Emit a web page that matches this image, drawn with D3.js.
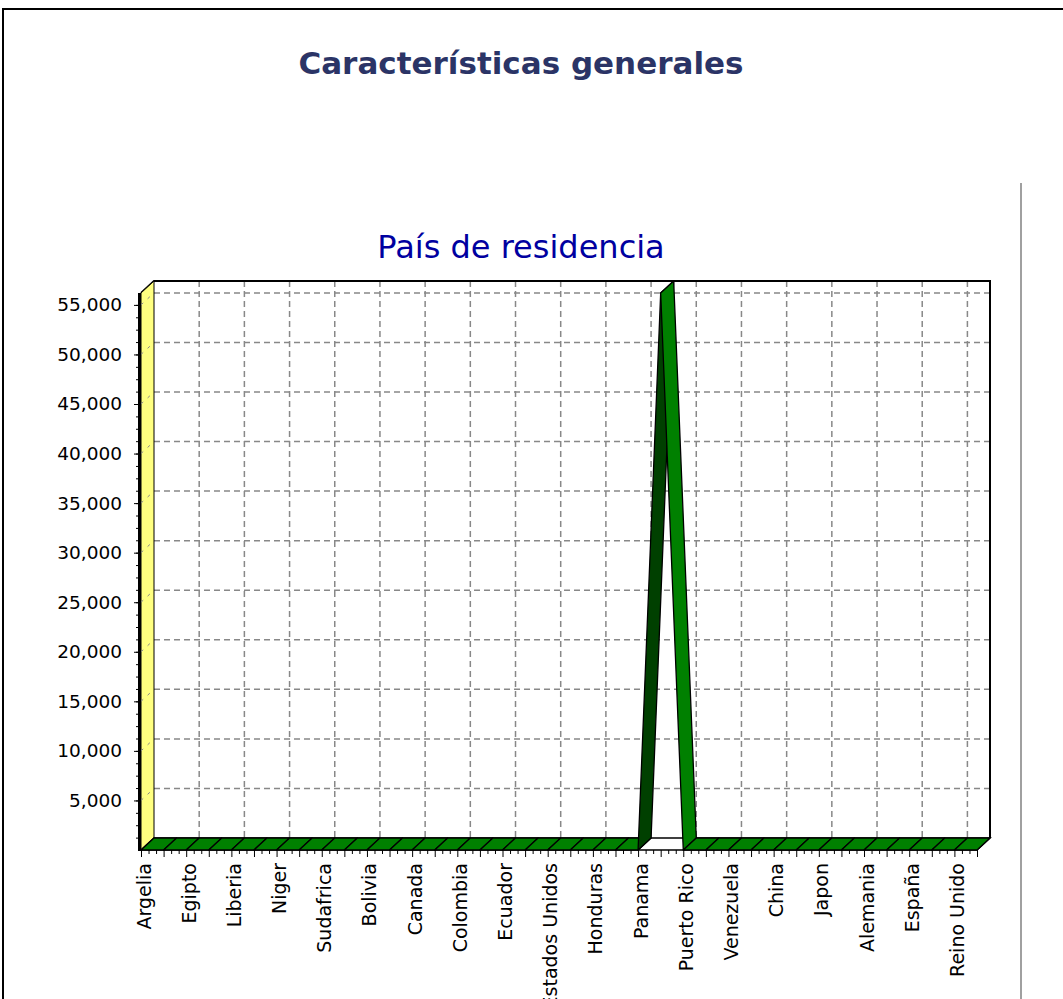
<!DOCTYPE html>
<html>
<head>
<meta charset="utf-8">
<script src="https://cdnjs.cloudflare.com/ajax/libs/d3/7.8.5/d3.min.js"></script>
<style>
  html, body { margin: 0; padding: 0; background: #fff; overflow: hidden; }
  svg { display: block; }
  text { font-family: "DejaVu Sans", Verdana, sans-serif; }
</style>
</head>
<body>
<svg id="chart" width="1063" height="999"></svg>
<script>
// paises (solo se rotula uno de cada dos)
const paises = [
  "Argelia", "Camerun", "Egipto", "Etiopia", "Liberia", "Marruecos", "Niger", "Nigeria",
  "Sudafrica", "Argentina", "Bolivia", "Brasil", "Canada", "Chile", "Colombia", "Costa Rica",
  "Ecuador", "El Salvador", "Estados Unidos", "Guatemala", "Honduras", "Mexico", "Panama", "Peru",
  "Puerto Rico", "Rep. Dominicana", "Venezuela", "Otros America", "China", "Corea", "Japon", "Otros Asia",
  "Alemania", "Francia", "España", "Italia", "Reino Unido", "Otros"
];
const residentes = [
  0, 0, 0, 0, 0, 0, 0, 0,
  0, 0, 0, 0, 0, 0, 0, 0,
  0, 0, 0, 0, 0, 0, 0, 56200,
  0, 0, 0, 0, 0, 0, 0, 0,
  0, 0, 0, 0, 0, 0
];
const etiquetasVisibles = [
  "Argelia", "Egipto", "Liberia", "Niger", "Sudafrica", "Bolivia", "Canada", "Colombia",
  "Ecuador", "Estados Unidos", "Honduras", "Panama", "Puerto Rico", "Venezuela", "China",
  "Japon", "Alemania", "España", "Reino Unido"
];
const yTicks = [5000, 10000, 15000, 20000, 25000, 30000, 35000, 40000, 45000, 50000, 55000];
const yMax = 56200;

const titulo = "Características generales";
const subtitulo = "País de residencia";

// geometria
const pLeft = 141, pRight = 977, pBottom = 850, pTop = 293;
const dx = 13, dy = -12; // profundidad 3D

const svg = d3.select("#chart");

// marco exterior
svg.append("rect")
  .attr("x", 3).attr("y", 9)
  .attr("width", 1080).attr("height", 1010)
  .attr("fill", "none").attr("stroke", "#000").attr("stroke-width", 2);

svg.append("line")
  .attr("x1", 1021).attr("x2", 1021).attr("y1", 183).attr("y2", 999)
  .attr("stroke", "#a0a0a0").attr("stroke-width", 2);

svg.append("text")
  .attr("x", 521).attr("y", 74)
  .attr("text-anchor", "middle")
  .attr("font-size", 31).attr("font-weight", "bold")
  .attr("fill", "#2b3466")
  .text(titulo);

svg.append("text")
  .attr("x", 521).attr("y", 258)
  .attr("text-anchor", "middle")
  .attr("font-size", 32)
  .attr("fill", "#0000a0")
  .text(subtitulo);

const x = d3.scalePoint().domain(paises).range([pLeft, pRight]);
const y = d3.scaleLinear().domain([0, yMax]).range([pBottom, pTop]);

const g = svg.append("g");

// pared del fondo: rejilla
const grid = g.append("g")
  .attr("stroke", "#888").attr("stroke-width", 1.5)
  .attr("stroke-dasharray", "6,4").attr("fill", "none");

grid.selectAll("line.h")
  .data(yTicks)
  .enter().append("line")
  .attr("class", "h")
  .attr("x1", pLeft + dx).attr("x2", pRight + dx)
  .attr("y1", d => y(d) + dy).attr("y2", d => y(d) + dy);

grid.selectAll("line.v")
  .data(etiquetasVisibles.slice(1))
  .enter().append("line")
  .attr("class", "v")
  .attr("x1", d => x(d) + dx).attr("x2", d => x(d) + dx)
  .attr("y1", pTop + dy).attr("y2", pBottom + dy);

// marco de la pared del fondo
g.append("path")
  .attr("d", `M${pLeft},${pTop} L${pLeft + dx},${pTop + dy} L${pRight + dx},${pTop + dy} L${pRight + dx},${pBottom + dy}`)
  .attr("fill", "none").attr("stroke", "#000").attr("stroke-width", 2);

// pared izquierda amarilla
g.append("path")
  .attr("d", `M${pLeft},${pTop} L${pLeft + dx},${pTop + dy} L${pLeft + dx},${pBottom + dy} L${pLeft},${pBottom} Z`)
  .attr("fill", "#ffff80").attr("stroke", "#000").attr("stroke-width", 1);

g.append("g")
  .attr("stroke", "#888").attr("stroke-width", 1).attr("stroke-dasharray", "3,6")
  .selectAll("line")
  .data(yTicks)
  .enter().append("line")
  .attr("x1", pLeft).attr("x2", pLeft + dx)
  .attr("y1", d => y(d)).attr("y2", d => y(d) + dy);

// suelo
g.append("path")
  .attr("d", `M${pLeft},${pBottom} L${pRight},${pBottom} L${pRight + dx},${pBottom + dy} L${pLeft + dx},${pBottom + dy} Z`)
  .attr("fill", "#fff").attr("stroke", "#000").attr("stroke-width", 1.5);

// cinta 3D de la linea
const segmentos = d3.pairs(paises.map((p, i) => ({ p, v: residentes[i] })));

g.append("g")
  .selectAll("path")
  .data(segmentos)
  .enter().append("path")
  .attr("d", ([a, b]) => {
    const x0 = x(a.p), y0 = y(a.v), x1 = x(b.p), y1 = y(b.v);
    return `M${x0},${y0} L${x1},${y1} L${x1 + dx},${y1 + dy} L${x0 + dx},${y0 + dy} Z`;
  })
  .attr("fill", ([a, b]) => b.v > a.v ? "#004000" : "#008000")
  .attr("stroke", "#000").attr("stroke-width", 1.3)
  .attr("stroke-linejoin", "round");

// eje Y
const yAxis = g.append("g")
  .attr("transform", `translate(${pLeft - 2},0)`)
  .call(d3.axisLeft(y).tickValues(yTicks).tickFormat(d3.format(",")).tickSize(5).tickPadding(12));
yAxis.select(".domain").remove();
yAxis.selectAll("text").attr("font-size", 18.5).attr("fill", "#000")
  .attr("font-family", "'DejaVu Sans', Verdana, sans-serif");
yAxis.selectAll("line").attr("stroke", "#000");

const yMinor = g.append("g")
  .attr("transform", `translate(${pLeft - 2},0)`)
  .call(d3.axisLeft(y).tickValues(d3.range(1250, yMax, 1250)).tickFormat("").tickSize(3));
yMinor.select(".domain").remove();

g.append("line")
  .attr("x1", pLeft - 1.5).attr("x2", pLeft - 1.5)
  .attr("y1", pTop).attr("y2", pBottom + 1)
  .attr("stroke", "#000").attr("stroke-width", 3);

// eje X
const xAxis = g.append("g")
  .attr("transform", `translate(0,${pBottom})`)
  .call(d3.axisBottom(x).tickSize(7).tickFormat(d => etiquetasVisibles.includes(d) ? d : ""));
xAxis.select(".domain").remove();
xAxis.selectAll("line").attr("stroke", "#000");
xAxis.selectAll("text")
  .attr("font-size", 19).attr("fill", "#000")
  .attr("font-family", "'DejaVu Sans', Verdana, sans-serif")
  .attr("text-anchor", "end")
  .attr("dy", null)
  .attr("dominant-baseline", "central")
  .attr("transform", "translate(2,13) rotate(-90)")
  .attr("y", 0).attr("x", 0);

const idx = d3.scaleLinear().domain([0, paises.length - 1]).range([pLeft, pRight]);
const xMinor = g.append("g")
  .attr("transform", `translate(0,${pBottom})`)
  .call(d3.axisBottom(idx)
    .tickValues(d3.range(0, paises.length - 1, 1 / 3).filter(v => Math.abs(v - Math.round(v)) > 0.01))
    .tickFormat("").tickSize(4));
xMinor.select(".domain").remove();
</script>
</body>
</html>
